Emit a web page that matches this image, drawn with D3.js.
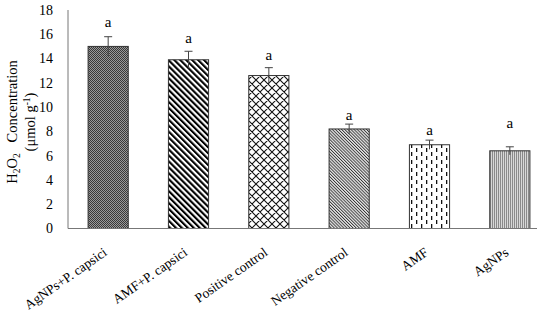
<!DOCTYPE html>
<html><head><meta charset="utf-8">
<script src="https://cdn.jsdelivr.net/npm/d3@7"></script>
<style>body{margin:0;background:#fff}svg{display:block}text{font-family:"Liberation Serif","Times New Roman",serif;fill:#000}</style>
</head><body>
<svg id="c" width="537" height="316"></svg>
<script>
const categories = ["AgNPs+P. capsici","AMF+P. capsici","Positive control","Negative control","AMF","AgNPs"];
const values = [15.0, 13.9, 12.6, 8.2, 6.9, 6.4];
const errors = [0.8, 0.7, 0.65, 0.4, 0.38, 0.33];
const letters = ["a","a","a","a","a","a"];
const letterPos = [16.9, 15.6, 14.2, 9.26, 7.97, 8.58];
const yTicks = [0,2,4,6,8,10,12,14,16,18];
const patterns = ["p0","p1","p2","p3","p4","p5"];

const svg = d3.select("#c");
const defs = svg.append("defs");
// p0 dark fine checker
let p = defs.append("pattern").attr("id","p0").attr("patternUnits","userSpaceOnUse").attr("width",2).attr("height",2);
p.append("rect").attr("width",2).attr("height",2).attr("fill","#9a9a9a");
p.append("rect").attr("width",1).attr("height",1).attr("fill","#383838");
p.append("rect").attr("x",1).attr("y",1).attr("width",1).attr("height",1).attr("fill","#383838");
// p1 bold diagonal stripes
p = defs.append("pattern").attr("id","p1").attr("patternUnits","userSpaceOnUse").attr("width",4.2).attr("height",4.2).attr("patternTransform","rotate(-45)");
p.append("rect").attr("width",4.2).attr("height",4.2).attr("fill","#fff");
p.append("rect").attr("width",2.1).attr("height",4.2).attr("fill","#000");
// p2 diamond crosshatch
p = defs.append("pattern").attr("id","p2").attr("patternUnits","userSpaceOnUse").attr("width",8).attr("height",8);
p.append("rect").attr("width",8).attr("height",8).attr("fill","#fff");
p.append("path").attr("d","M0,0L8,8M8,0L0,8M-1,7L1,9M7,-1L9,1M-1,1L1,-1M7,9L9,7").attr("stroke","#111").attr("stroke-width",1.1);
// p3 fine diagonal lines
p = defs.append("pattern").attr("id","p3").attr("patternUnits","userSpaceOnUse").attr("width",2.2).attr("height",2.2).attr("patternTransform","rotate(-45)");
p.append("rect").attr("width",2.2).attr("height",2.2).attr("fill","#e8e8e8");
p.append("rect").attr("width",0.9).attr("height",2.2).attr("fill","#333");
// p4 vertical dashes
p = defs.append("pattern").attr("id","p4").attr("patternUnits","userSpaceOnUse").attr("width",10).attr("height",8);
p.append("rect").attr("width",10).attr("height",8).attr("fill","#fff");
p.append("rect").attr("x",1).attr("y",0).attr("width",1.3).attr("height",4).attr("fill","#111");
p.append("rect").attr("x",6).attr("y",4).attr("width",1.3).attr("height",4).attr("fill","#111");
// p5 fine vertical light gray
p = defs.append("pattern").attr("id","p5").attr("patternUnits","userSpaceOnUse").attr("width",2).attr("height",2);
p.append("rect").attr("width",2).attr("height",2).attr("fill","#d8d8d8");
p.append("rect").attr("width",1).attr("height",2).attr("fill","#8a8a8a");

const x = d3.scaleBand().domain(categories).range([68,550]).paddingInner(0.5).paddingOuter(0.25);
const y = d3.scaleLinear().domain([0,18]).range([228.5,10]);

// y tick labels
svg.append("g").selectAll("text").data(yTicks).join("text")
  .attr("x",53).attr("y",d=>y(d)).attr("dy","0.35em").attr("text-anchor","end")
  .style("font-size","14px").text(d=>d);

// bars
svg.append("g").selectAll("rect").data(values).join("rect")
  .attr("x",(d,i)=>x(categories[i])).attr("y",d=>y(d))
  .attr("width",x.bandwidth()).attr("height",d=>y(0)-y(d))
  .attr("fill",(d,i)=>`url(#${patterns[i]})`).attr("stroke","#333").attr("stroke-width",1);

// error bars
const eg = svg.append("g").attr("stroke","#444").attr("stroke-width",1);
values.forEach((v,i)=>{
  const cx = x(categories[i]) + x.bandwidth()/2;
  eg.append("line").attr("x1",cx).attr("x2",cx).attr("y1",y(v+errors[i])).attr("y2",y(v-errors[i]));
  eg.append("line").attr("x1",cx-4).attr("x2",cx+4).attr("y1",y(v+errors[i])).attr("y2",y(v+errors[i]));
});

// letters
svg.append("g").selectAll("text").data(letters).join("text")
  .attr("x",(d,i)=>x(categories[i])+x.bandwidth()/2).attr("y",(d,i)=>y(letterPos[i])+3.5)
  .attr("text-anchor","middle").style("font-size","15px").text(d=>d);

// axes lines
svg.append("line").attr("x1",68).attr("x2",537).attr("y1",y(0)).attr("y2",y(0)).attr("stroke","#777").attr("stroke-width",1);
svg.append("line").attr("x1",68).attr("x2",68).attr("y1",y(0)).attr("y2",y(18)).attr("stroke","#777").attr("stroke-width",1);

// x labels
svg.append("g").selectAll("text").data(categories).join("text")
  .attr("transform",d=>`translate(${x(d)+x.bandwidth()/2-3},${y(0)+22}) rotate(-35)`)
  .attr("text-anchor","end").attr("dy","0.35em").style("font-size","13.5px").text(d=>d);

// y label
const yl = svg.append("text").attr("transform","translate(17,122) rotate(-90)").attr("text-anchor","middle").style("font-size","14.5px");
yl.append("tspan").text("H");
yl.append("tspan").attr("dy",3).style("font-size","9.5px").text("2");
yl.append("tspan").attr("dy",-3).text("O");
yl.append("tspan").attr("dy",3).style("font-size","9.5px").text("2");
yl.append("tspan").attr("dy",-3).attr("xml:space","preserve").text("\u2002 Concentration");
const yl2 = svg.append("text").attr("transform","translate(35,122) rotate(-90)").attr("text-anchor","middle").style("font-size","14.5px");
yl2.append("tspan").text("(μmol g");
yl2.append("tspan").attr("dy",-5).style("font-size","9.5px").text("-1");
yl2.append("tspan").attr("dy",5).text(")");
</script>
</body></html>
